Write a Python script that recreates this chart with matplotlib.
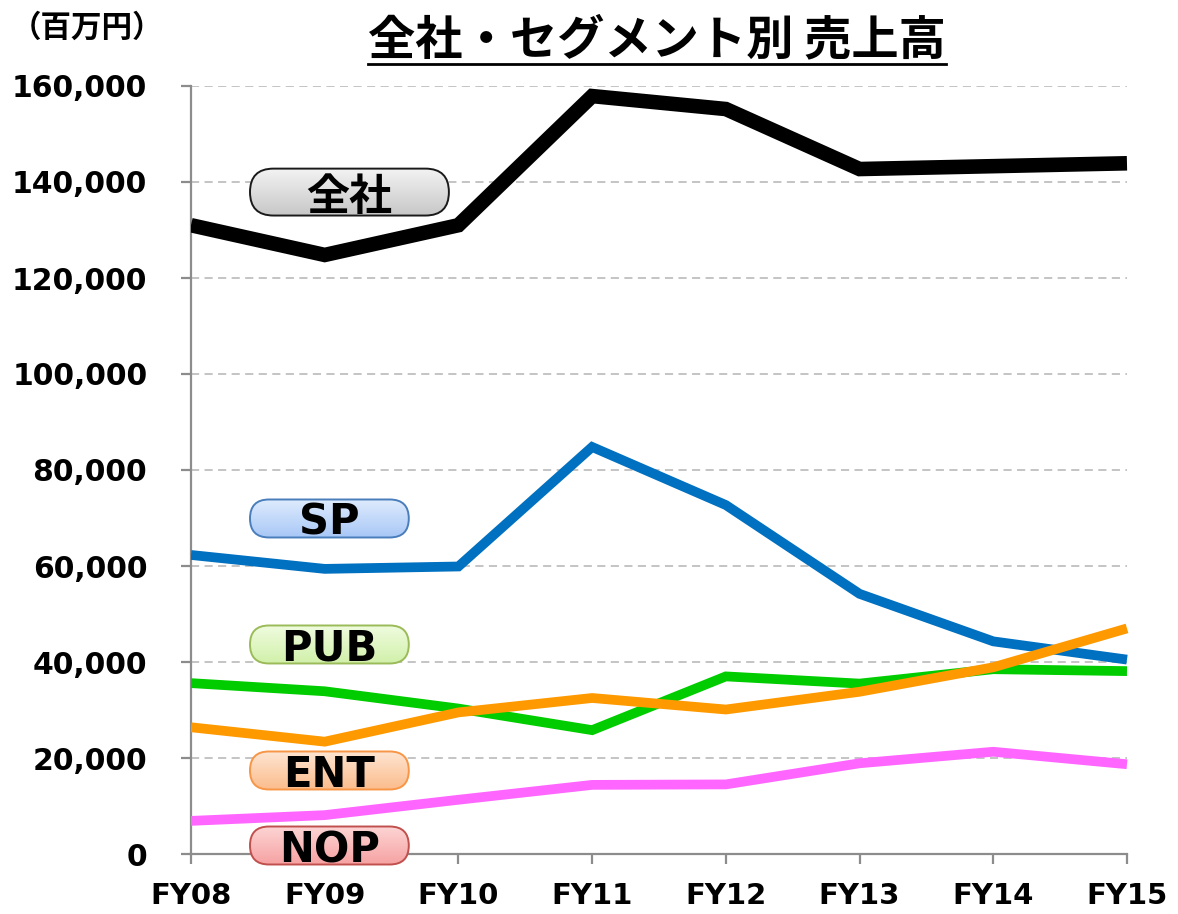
import matplotlib.pyplot as plt
import numpy as np
from matplotlib.colors import LinearSegmentedColormap
from matplotlib.lines import Line2D
from matplotlib.patches import FancyBboxPatch

plt.rcParams['font.family'] = ['DejaVu Sans', 'Noto Sans CJK JP']

# Data (百万円)
years = ['FY08', 'FY09', 'FY10', 'FY11', 'FY12', 'FY13', 'FY14', 'FY15']
total = [131000, 124800, 131000, 157900, 155200, 142700, 143300, 143900]
sp = [62300, 59400, 59900, 84800, 72700, 54200, 44300, 40500]
pub = [35600, 33900, 30300, 25800, 37000, 35500, 38500, 38100]
ent = [26400, 23400, 29500, 32500, 30100, 33800, 38900, 47000]
nop = [6900, 8100, 11300, 14400, 14500, 18900, 21300, 18700]

series_names = ['全社', 'SP', 'PUB', 'ENT', 'NOP']
series_values = [total, sp, pub, ent, nop]
line_colors = ['#000000', '#0070c0', '#00cc00', '#ff9900', '#ff66ff']
line_widths = [10.5, 7, 7, 7, 7]
draw_order = [0, 1, 2, 4, 3]

# label pills: (top colour, bottom colour, edge colour), centre y in data units
pill_colors = [('#f4f4f4', '#c6c6c6', '#1a1a1a'),
               ('#e0ecfd', '#a6c6f6', '#4a7ebb'),
               ('#f0fce0', '#d0f0a8', '#9bbb59'),
               ('#fee6d4', '#fbbb8a', '#f79646'),
               ('#fdd6d6', '#f6a0a0', '#c0504d')]
pill_y = [137900, 69900, 43650, 17400, 1770]
pill_w = [1.51, 1.21, 1.21, 1.21, 1.21]
pill_h = [10400, 8540, 8540, 8540, 8540]
pill_x = 0.43
pill_fs = [31, 30, 30, 30, 30]

W, H = 1178, 914
fig = plt.figure(figsize=(W / 100, H / 100), dpi=100)
ax_left, ax_right, ax_top, ax_bottom = 191, 1135, 86, 854
ax = fig.add_axes([ax_left / W, 1 - ax_bottom / H, (ax_right - ax_left) / W, (ax_bottom - ax_top) / H])

x = np.arange(len(years))
for i in draw_order:
    ax.plot(x, series_values[i], color=line_colors[i], lw=line_widths[i],
            solid_capstyle='butt', solid_joinstyle='miter', zorder=3 + i * 0.1)

ax.set_xlim(0, 7.06)
ax.set_ylim(0, 160000)
yticks = np.arange(0, 160001, 20000)
ax.hlines(yticks[1:], 0, 7, colors='#bfbfbf', linestyles=(0, (4.5, 3)), lw=1.3, zorder=1)

for s in ['top', 'right']:
    ax.spines[s].set_visible(False)
for s in ['left', 'bottom']:
    ax.spines[s].set_color('#8c8c8c')
    ax.spines[s].set_linewidth(1.6)
ax.spines['bottom'].set_bounds(0, 7)

ax.set_yticks(yticks)
ax.set_yticklabels([f'{v:,}' for v in yticks])
ax.set_xticks(x)
ax.set_xticklabels(years)
ax.tick_params(axis='y', direction='out', length=7.5, width=1.6, color='#8c8c8c', pad=24,
               labelsize=21.5)
ax.tick_params(axis='x', direction='out', length=7.5, width=1.6, color='#8c8c8c', pad=13,
               labelsize=21)
for lab in ax.get_xticklabels() + ax.get_yticklabels():
    lab.set_fontweight('bold')

# pill labels
for i, name in enumerate(series_names):
    top_c, bot_c, edge_c = pill_colors[i]
    iax = ax.inset_axes([pill_x, pill_y[i] - pill_h[i] / 2, pill_w[i], pill_h[i]],
                        transform=ax.transData, zorder=10)
    iax.axis('off')
    bb = iax.get_position()
    wp, hp = bb.width * W, bb.height * H
    iax.set_xlim(0, wp)
    iax.set_ylim(0, hp)
    cmap = LinearSegmentedColormap.from_list('g', [bot_c, top_c])
    grad = np.linspace(0, 1, 64).reshape(-1, 1)
    img = iax.imshow(grad, cmap=cmap, extent=[0, wp, 0, hp], origin='lower', aspect='auto')
    patch = FancyBboxPatch((1.5, 1.5), wp - 3, hp - 3,
                           boxstyle=f'round,pad=0,rounding_size={(hp - 3) / 2}',
                           facecolor='none', edgecolor=edge_c, lw=1.4)
    iax.add_patch(patch)
    img.set_clip_path(patch)
    fam = ['Noto Sans CJK JP'] if i == 0 else ['DejaVu Sans']
    iax.text(wp / 2, hp / 2, name, ha='center', va='center_baseline', fontsize=pill_fs[i],
             fontweight='bold', family=fam, color='black')

# title with underline
fig.text(657 / W, 1 - 40 / H, '全社・セグメント別 売上高', ha='center', va='center',
         fontsize=34, fontweight='bold', family=['Noto Sans CJK JP'])
fig.add_artist(Line2D([368 / W, 946 / W], [1 - 64 / H, 1 - 64 / H], color='black', lw=2,
                      transform=fig.transFigure))
fig.text(87 / W, 1 - 28 / H, '（百万円）', ha='center', va='center', fontsize=22,
         fontweight='bold', family=['Noto Sans CJK JP'])

fig.savefig('out.png', dpi=100)
